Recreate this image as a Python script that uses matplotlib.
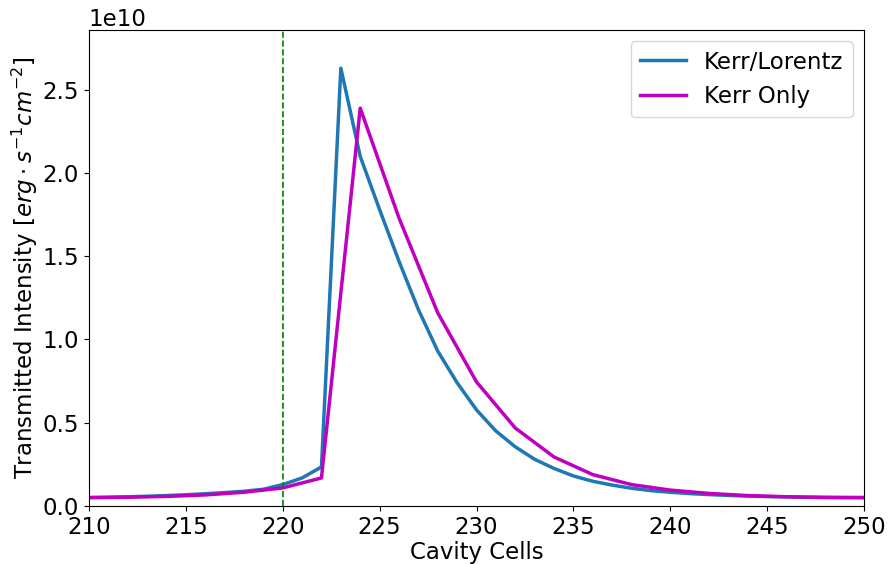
import matplotlib
matplotlib.use('Agg')
import matplotlib.pyplot as plt

# Kerr/Lorentz sampled every cell
kl_cells = list(range(210, 251))
kl_vals = [0.050, 0.052, 0.055, 0.058, 0.062, 0.067, 0.073, 0.080, 0.088, 0.100,
           0.128, 0.168, 0.234, 2.63, 2.10, 1.78, 1.47, 1.18, 0.93, 0.74,
           0.577, 0.45, 0.355, 0.28, 0.225, 0.18, 0.148, 0.125, 0.106, 0.092,
           0.082, 0.074, 0.068, 0.063, 0.059, 0.056, 0.054, 0.052, 0.051, 0.050,
           0.050]

# Kerr only sampled every second cell
ko_cells = list(range(210, 251, 2))
ko_vals = [0.050, 0.052, 0.057, 0.066, 0.082, 0.108, 0.168, 2.39, 1.73, 1.16,
           0.745, 0.468, 0.294, 0.188, 0.128, 0.095, 0.075, 0.062, 0.055, 0.051,
           0.050]

kl_vals = [v * 1e10 for v in kl_vals]
ko_vals = [v * 1e10 for v in ko_vals]

fs = 16.5

fig, ax = plt.subplots(figsize=(8.89, 5.64), dpi=100)
fig.subplots_adjust(left=0.1, right=0.972, top=0.947, bottom=0.103)

ax.plot(kl_cells, kl_vals, color='#1f77b4', lw=2.5, label='Kerr/Lorentz')
ax.plot(ko_cells, ko_vals, color='m', lw=2.5, label='Kerr Only')
ax.axvline(220, color='g', ls='--', lw=1.2)

ax.set_xlim(210, 250)
ax.set_ylim(0, 2.86e10)
ax.set_xlabel('Cavity Cells', fontsize=fs, labelpad=2)
ax.set_ylabel(r'Transmitted Intensity [$erg \cdot s^{-1} cm^{-2}$]', fontsize=fs, labelpad=2)
ax.tick_params(labelsize=fs)
ax.yaxis.get_offset_text().set_fontsize(fs)
ax.legend(fontsize=fs, loc='upper right')

fig.savefig('out.png')
